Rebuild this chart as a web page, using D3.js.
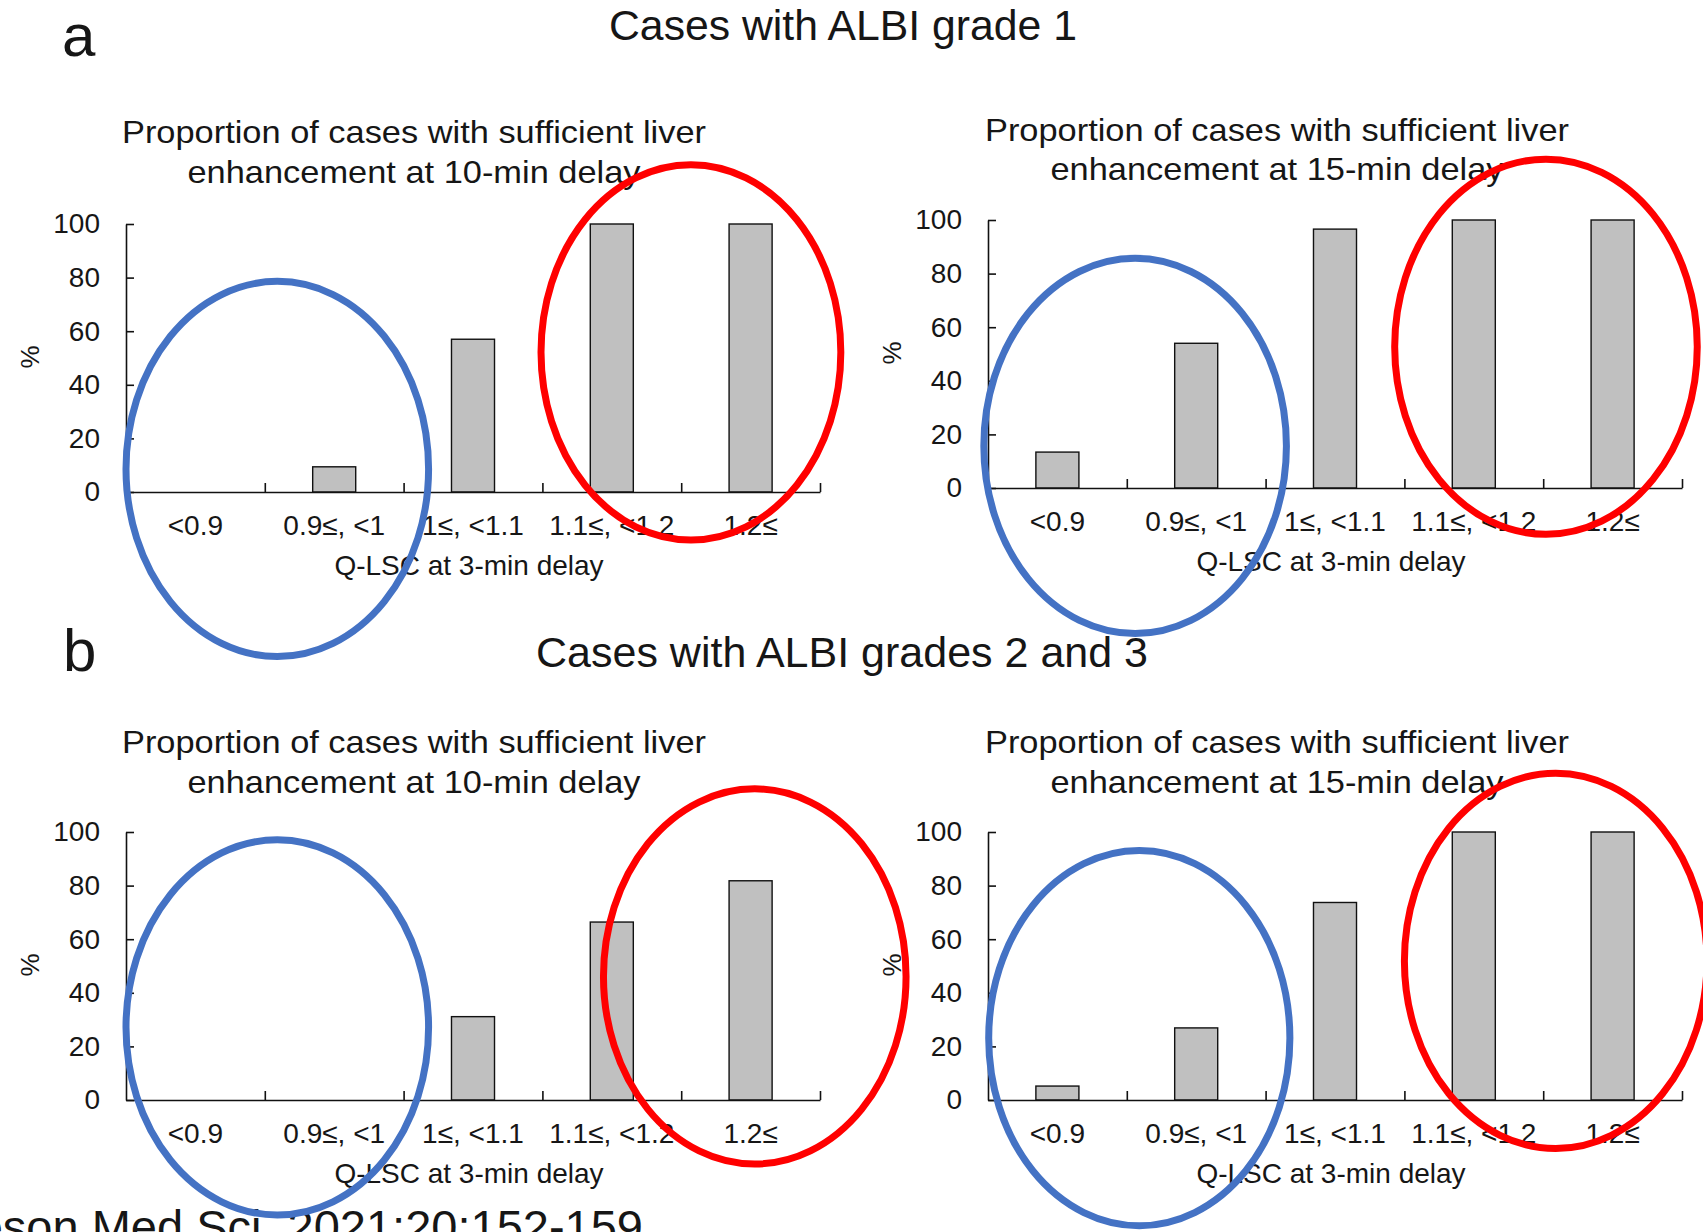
<!DOCTYPE html>
<html>
<head>
<meta charset="utf-8">
<script src="https://cdn.jsdelivr.net/npm/d3@7"></script>
<style>
  html, body { margin: 0; padding: 0; background: #fff; }
  svg { display: block; font-family: "Liberation Sans", Arial, sans-serif; }
  text { fill: #161616; }
</style>
</head>
<body>
<svg id="fig" width="1703" height="1232"></svg>
<script>
// Q-LSC bins at the 3-min delay
const categories = ["<0.9", "0.9≤, <1", "1≤, <1.1", "1.1≤, <1.2", "1.2≤"];
const yTicks = [0, 20, 40, 60, 80, 100];

// % of cases with sufficient liver enhancement
const grade1At10 = [0, 9.4, 57, 100, 100];
const grade1At15 = [13.4, 54, 96.6, 100, 100];
const grade23At10 = [0, 0, 31.1, 66.4, 81.8];
const grade23At15 = [5.2, 26.9, 73.7, 100, 100];

const titleLine1 = "Proportion of cases with sufficient liver";
const titleLine2At10 = "enhancement at 10-min delay";
const titleLine2At15 = "enhancement at 15-min delay";
const xAxisLabel = "Q-LSC at 3-min delay";
const yAxisLabel = "%";

const headingA = "Cases with ALBI grade 1";
const headingB = "Cases with ALBI grades 2 and 3";
const citation = "Magn Reson Med Sci. 2021;20:152-159";

// Highlight rings in data units: [centre bin position, centre %, half-width in bins, half-height in %]
const lowRings  = [[1.09, 8.6, 1.09, 70], [1.06, 15.7, 1.09, 70], [1.09, 27.1, 1.09, 70], [1.09, 23.1, 1.085, 70]];
const highRings = [[4.07, 52.1, 1.08, 70], [4.02, 52.7, 1.09, 70], [4.53, 46.1, 1.09, 70], [4.09, 51.9, 1.09, 70]];

const svg = d3.select("#fig");

const PLOT_W = 694, PLOT_H = 268;
const panels = [
  { values: grade1At10,  line2: titleLine2At10, left: 126, base: 492, titleX: 414,  titleY: 143 },
  { values: grade1At15,  line2: titleLine2At15, left: 988, base: 488, titleX: 1277, titleY: 140.5 },
  { values: grade23At10, line2: titleLine2At10, left: 126, base: 1100, titleX: 414,  titleY: 753 },
  { values: grade23At15, line2: titleLine2At15, left: 988, base: 1100, titleX: 1277, titleY: 753 }
];

function drawPanel(p, i) {
  const g = svg.append("g");
  const x = d3.scaleBand().domain(categories)
    .range([p.left, p.left + PLOT_W]).paddingInner(0.69).paddingOuter(0.345);
  const xPos = d3.scaleLinear().domain([0, categories.length]).range([p.left, p.left + PLOT_W]);
  const y = d3.scaleLinear().domain([0, 100]).range([p.base, p.base - PLOT_H]);

  // title
  g.append("text").attr("x", p.titleX).attr("y", p.titleY)
    .attr("text-anchor", "middle").attr("font-size", 32)
    .attr("textLength", 584).attr("lengthAdjust", "spacingAndGlyphs")
    .text(titleLine1);
  g.append("text").attr("x", p.titleX).attr("y", p.titleY + 39.5)
    .attr("text-anchor", "middle").attr("font-size", 32)
    .attr("textLength", 453).attr("lengthAdjust", "spacingAndGlyphs")
    .text(p.line2);

  // bars
  g.selectAll("rect.bar").data(p.values.map((v, k) => ({ c: categories[k], v })).filter(d => d.v > 0))
    .join("rect").attr("class", "bar")
    .attr("x", d => x(d.c)).attr("width", x.bandwidth())
    .attr("y", d => y(d.v)).attr("height", d => y(0) - y(d.v))
    .attr("fill", "#c0c0c0").attr("stroke", "#111").attr("stroke-width", 1.4);

  // y axis
  const ya = g.append("g").attr("transform", `translate(${p.left},0)`)
    .call(d3.axisLeft(y).tickValues(yTicks).tickSize(-8).tickSizeOuter(0).tickPadding(26));
  ya.selectAll("text").attr("font-size", 28).attr("font-family", "Liberation Sans, Arial, sans-serif").attr("fill", "#161616");
  ya.selectAll("line, path").attr("stroke", "#111").attr("stroke-width", 1.6);

  // x axis: boundary ticks
  const xb = g.append("g").attr("transform", `translate(0,${p.base})`)
    .call(d3.axisBottom(xPos).tickValues([1, 2, 3, 4, 5]).tickSize(-9).tickSizeOuter(0).tickFormat(""));
  xb.selectAll("line, path").attr("stroke", "#111").attr("stroke-width", 1.6);

  // x axis: category labels
  const xl = g.append("g").attr("transform", `translate(0,${p.base})`)
    .call(d3.axisBottom(x).tickSize(0).tickPadding(23));
  xl.select(".domain").remove();
  xl.selectAll("text").attr("font-size", 28).attr("font-family", "Liberation Sans, Arial, sans-serif").attr("fill", "#161616");

  // axis titles
  g.append("text").attr("x", p.left + PLOT_W / 2 - 4).attr("y", p.base + 83)
    .attr("text-anchor", "middle").attr("font-size", 28)
    .text(xAxisLabel);
  g.append("text")
    .attr("transform", `translate(${p.left - 96},${p.base - 135}) rotate(-90)`)
    .attr("text-anchor", "middle").attr("dy", "0.35em").attr("font-size", 26)
    .text(yAxisLabel);

  return { xPos, y };
}

const scales = panels.map(drawPanel);

// section headings
svg.append("text").attr("x", 62).attr("y", 56).attr("font-size", 60).text("a");
svg.append("text").attr("x", 63).attr("y", 671).attr("font-size", 60).text("b");
svg.append("text").attr("x", 843).attr("y", 40).attr("text-anchor", "middle")
  .attr("font-size", 42).attr("textLength", 468).attr("lengthAdjust", "spacingAndGlyphs").text(headingA);
svg.append("text").attr("x", 842).attr("y", 667).attr("text-anchor", "middle")
  .attr("font-size", 42).attr("textLength", 612).attr("lengthAdjust", "spacingAndGlyphs").text(headingB);

// citation, running off the bottom-left corner
svg.append("text").attr("x", 643).attr("y", 1243).attr("text-anchor", "end")
  .attr("font-size", 47).text(citation);

// highlight rings drawn over the charts
function ring(r, s, colour) {
  const [cx, cy, rx, ry] = r;
  svg.append("ellipse")
    .attr("cx", s.xPos(cx)).attr("cy", s.y(cy))
    .attr("rx", s.xPos(rx) - s.xPos(0)).attr("ry", s.y(0) - s.y(ry))
    .attr("fill", "none").attr("stroke", colour).attr("stroke-width", 7);
}
lowRings.forEach((r, k) => ring(r, scales[k], "#4472c4"));
highRings.forEach((r, k) => ring(r, scales[k], "#ff0000"));
</script>
</body>
</html>
